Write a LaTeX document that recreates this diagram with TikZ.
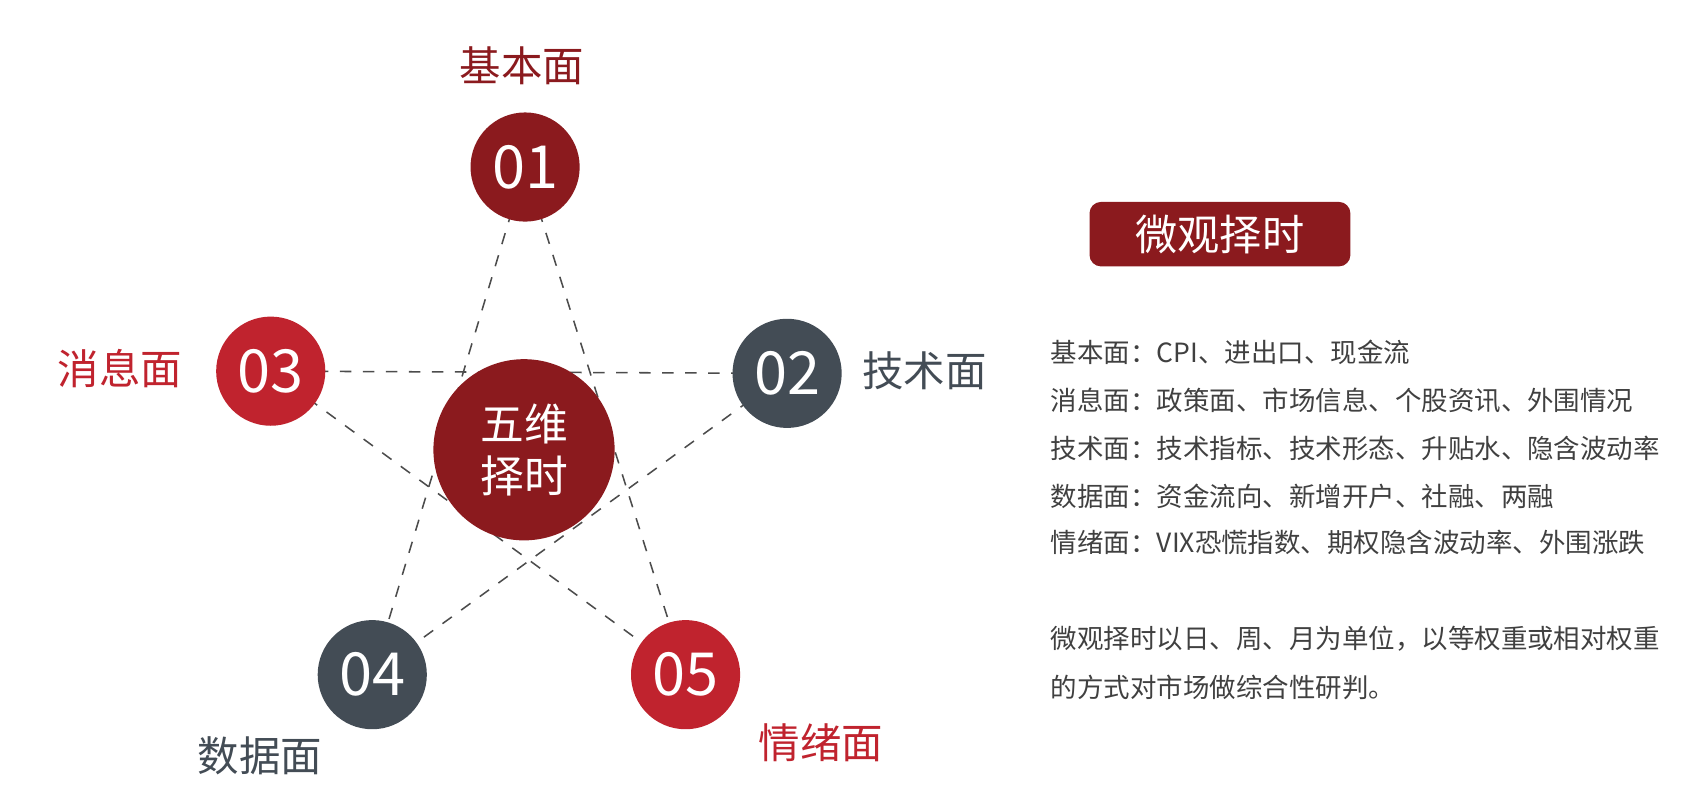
\documentclass[tikz,border=0pt]{standalone}
\usepackage{fontspec}
\setmainfont{Noto Sans CJK SC}
\definecolor{dred}{HTML}{8B1A1E}
\definecolor{rred}{HTML}{C0232E}
\definecolor{slate}{HTML}{434C55}
\definecolor{txt}{HTML}{404040}
\begin{document}
\begin{tikzpicture}[x=1cm,y=-1cm,
  num/.style={circle,minimum size=1cm,inner sep=0pt,text=white,font=\fontsize{15.5}{16}\selectfont},
  lab/.style={font=\fontsize{10.8}{12}\selectfont},
  link/.style={dashed,draw=black!70,line width=0.4pt},
  info/.style={anchor=west,text=txt,font=\fontsize{6.9}{8}\selectfont,inner sep=0pt}]
\useasboundingbox (0,0) rectangle (15.6,7.42);
\coordinate (c1) at (4.81,1.53);
\coordinate (c2) at (7.21,3.42);
\coordinate (c3) at (2.48,3.40);
\coordinate (c4) at (3.41,6.18);
\coordinate (c5) at (6.28,6.18);
\draw[link] (c3) -- (c2);
\draw[link] (c1) -- (c4);
\draw[link] (c1) -- (c5);
\draw[link] (c3) -- (c5);
\draw[link] (c2) -- (c4);
\node[circle,fill=dred,minimum size=1.66cm,inner sep=0pt,text=white,align=center,font=\fontsize{11.4}{13.5}\selectfont] (ctr) at (4.80,4.12) {五维\\择时};
\node[num,fill=dred] (n1) at (c1) {01};
\node[num,fill=slate] (n2) at (c2) {02};
\node[num,fill=rred] (n3) at (c3) {03};
\node[num,fill=slate] (n4) at (c4) {04};
\node[num,fill=rred] (n5) at (c5) {05};
\node[lab,text=dred] (l1) at (4.78,0.60) {基本面};
\node[lab,text=slate] (l2) at (8.47,3.40) {技术面};
\node[lab,text=rred] (l3) at (1.10,3.38) {消息面};
\node[lab,text=slate] (l4) at (2.38,6.92) {数据面};
\node[lab,text=rred] (l5) at (7.52,6.80) {情绪面};
\node[fill=dred,rounded corners=3pt,minimum width=2.39cm,minimum height=0.59cm,text=white,font=\fontsize{11}{12}\selectfont] (title) at (11.175,2.145) {微观择时};
\node[info] (t1) at (9.62,3.23) {基本面：CPI、进出口、现金流};
\node[info] (t2) at (9.62,3.67) {消息面：政策面、市场信息、个股资讯、外围情况};
\node[info] (t3) at (9.62,4.11) {技术面：技术指标、技术形态、升贴水、隐含波动率};
\node[info] (t4) at (9.62,4.55) {数据面：资金流向、新增开户、社融、两融};
\node[info] (t5) at (9.62,4.97) {情绪面：VIX恐慌指数、期权隐含波动率、外围涨跌};
\node[info] (p1) at (9.62,5.85) {微观择时以日、周、月为单位，以等权重或相对权重};
\node[info] (p2) at (9.62,6.30) {的方式对市场做综合性研判。};
\end{tikzpicture}
\end{document}
